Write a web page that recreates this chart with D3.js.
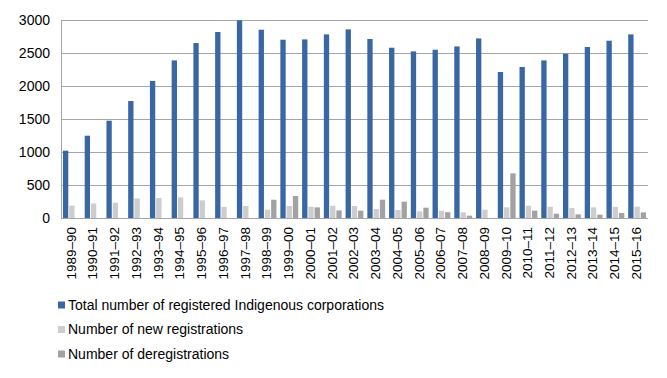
<!DOCTYPE html>
<html>
<head>
<meta charset="utf-8">
<script src="https://cdn.jsdelivr.net/npm/d3@7"></script>
<style>
  body { margin: 0; background: #fff; }
  svg { font-family: "Liberation Sans", Arial, sans-serif; }
</style>
</head>
<body>
<svg width="667" height="378"></svg>
<script>
const YEARS = ['1989–90','1990–91','1991–92','1992–93','1993–94','1994–95','1995–96','1996–97','1997–98','1998–99',
  '1999–00','2000–01','2001–02','2002–03','2003–04','2004–05','2005–06','2006–07','2007–08','2008–09',
  '2009–10','2010–11','2011–12','2012–13','2013–14','2014–15','2015–16'];
const TOTAL = [1020,1247,1474,1772,2076,2388,2651,2818,2995,2853,2701,2706,2782,2858,2712,2580,2524,2550,2600,2721,2212,2288,2388,2489,2591,2686,2782];
const NEW_REG = [186,221,232,297,303,312,267,167,182,126,182,171,186,182,136,121,100,111,85,126,161,186,171,151,161,167,171];
const DEREG = [0,0,0,0,0,0,0,0,0,277,333,161,115,111,277,247,156,88,35,0,676,111,65,55,50,76,85];
const SERIES = ['Total number of registered Indigenous corporations','Number of new registrations','Number of deregistrations'];
const COLORS = ['#3867a4','#cdcdcd','#a2a2a2'];
const Y_TICKS = [0,500,1000,1500,2000,2500,3000];

const rows = YEARS.map((y, i) => ({ year: y, vals: [TOTAL[i], NEW_REG[i], DEREG[i]] }));

const svg = d3.select('svg');
const plotL = 61, plotR = 648, plotT = 20, plotB = 218;

const x0 = d3.scaleBand().domain(YEARS).range([plotL, plotR]).paddingInner(0.18).paddingOuter(0.09);
const x1 = d3.scaleBand().domain([0,1,2]).range([0, x0.bandwidth()]).paddingInner(0.15);
const y = d3.scaleLinear().domain([0, 3000]).range([plotB, plotT]);

// gridlines
svg.append('g')
  .selectAll('line')
  .data(Y_TICKS)
  .enter()
  .append('line')
  .attr('x1', plotL).attr('x2', plotR)
  .attr('y1', d => y(d)).attr('y2', d => y(d))
  .attr('stroke', '#a6a6a6').attr('stroke-width', 1)
  .attr('shape-rendering', 'crispEdges');

// y axis line
svg.append('line')
  .attr('x1', plotL).attr('x2', plotL).attr('y1', plotT).attr('y2', plotB)
  .attr('stroke', '#a6a6a6').attr('shape-rendering', 'crispEdges');

// y labels
svg.append('g')
  .selectAll('text')
  .data(Y_TICKS)
  .enter()
  .append('text')
  .attr('x', 50)
  .attr('y', d => y(d))
  .attr('dy', '0.35em')
  .attr('text-anchor', 'end')
  .attr('font-size', 14)
  .attr('fill', '#000')
  .text(d => d);

// bars
const groups = svg.append('g')
  .selectAll('g')
  .data(rows)
  .enter()
  .append('g')
  .attr('transform', d => `translate(${x0(d.year)},0)`);

groups.selectAll('rect')
  .data(d => d.vals.map((v, k) => ({ k, v })))
  .enter()
  .append('rect')
  .attr('x', d => x1(d.k))
  .attr('width', x1.bandwidth())
  .attr('y', d => y(d.v))
  .attr('height', d => plotB - y(d.v))
  .attr('fill', d => COLORS[d.k]);

// bottom axis line
svg.append('line')
  .attr('x1', plotL).attr('x2', plotR).attr('y1', plotB).attr('y2', plotB)
  .attr('stroke', '#a6a6a6').attr('shape-rendering', 'crispEdges');

// x labels
svg.append('g')
  .selectAll('text')
  .data(YEARS)
  .enter()
  .append('text')
  .attr('transform', d => `translate(${x0(d) + x0.bandwidth() / 2 - 0.9},${plotB + 9}) rotate(-90)`)
  .attr('dy', '0.35em')
  .attr('text-anchor', 'end')
  .attr('font-size', 13.5)
  .attr('fill', '#000')
  .text(d => d);

// legend
const legend = svg.append('g')
  .selectAll('g')
  .data(SERIES)
  .enter()
  .append('g')
  .attr('transform', (d, i) => `translate(58,${305 + i * 24.5})`);

legend.append('rect')
  .attr('x', 0).attr('y', -3.5).attr('width', 7).attr('height', 7)
  .attr('fill', (d, i) => COLORS[i]);

legend.append('text')
  .attr('x', 10).attr('dy', '0.35em')
  .attr('font-size', 14)
  .attr('fill', '#000')
  .text(d => d);
</script>
</body>
</html>
